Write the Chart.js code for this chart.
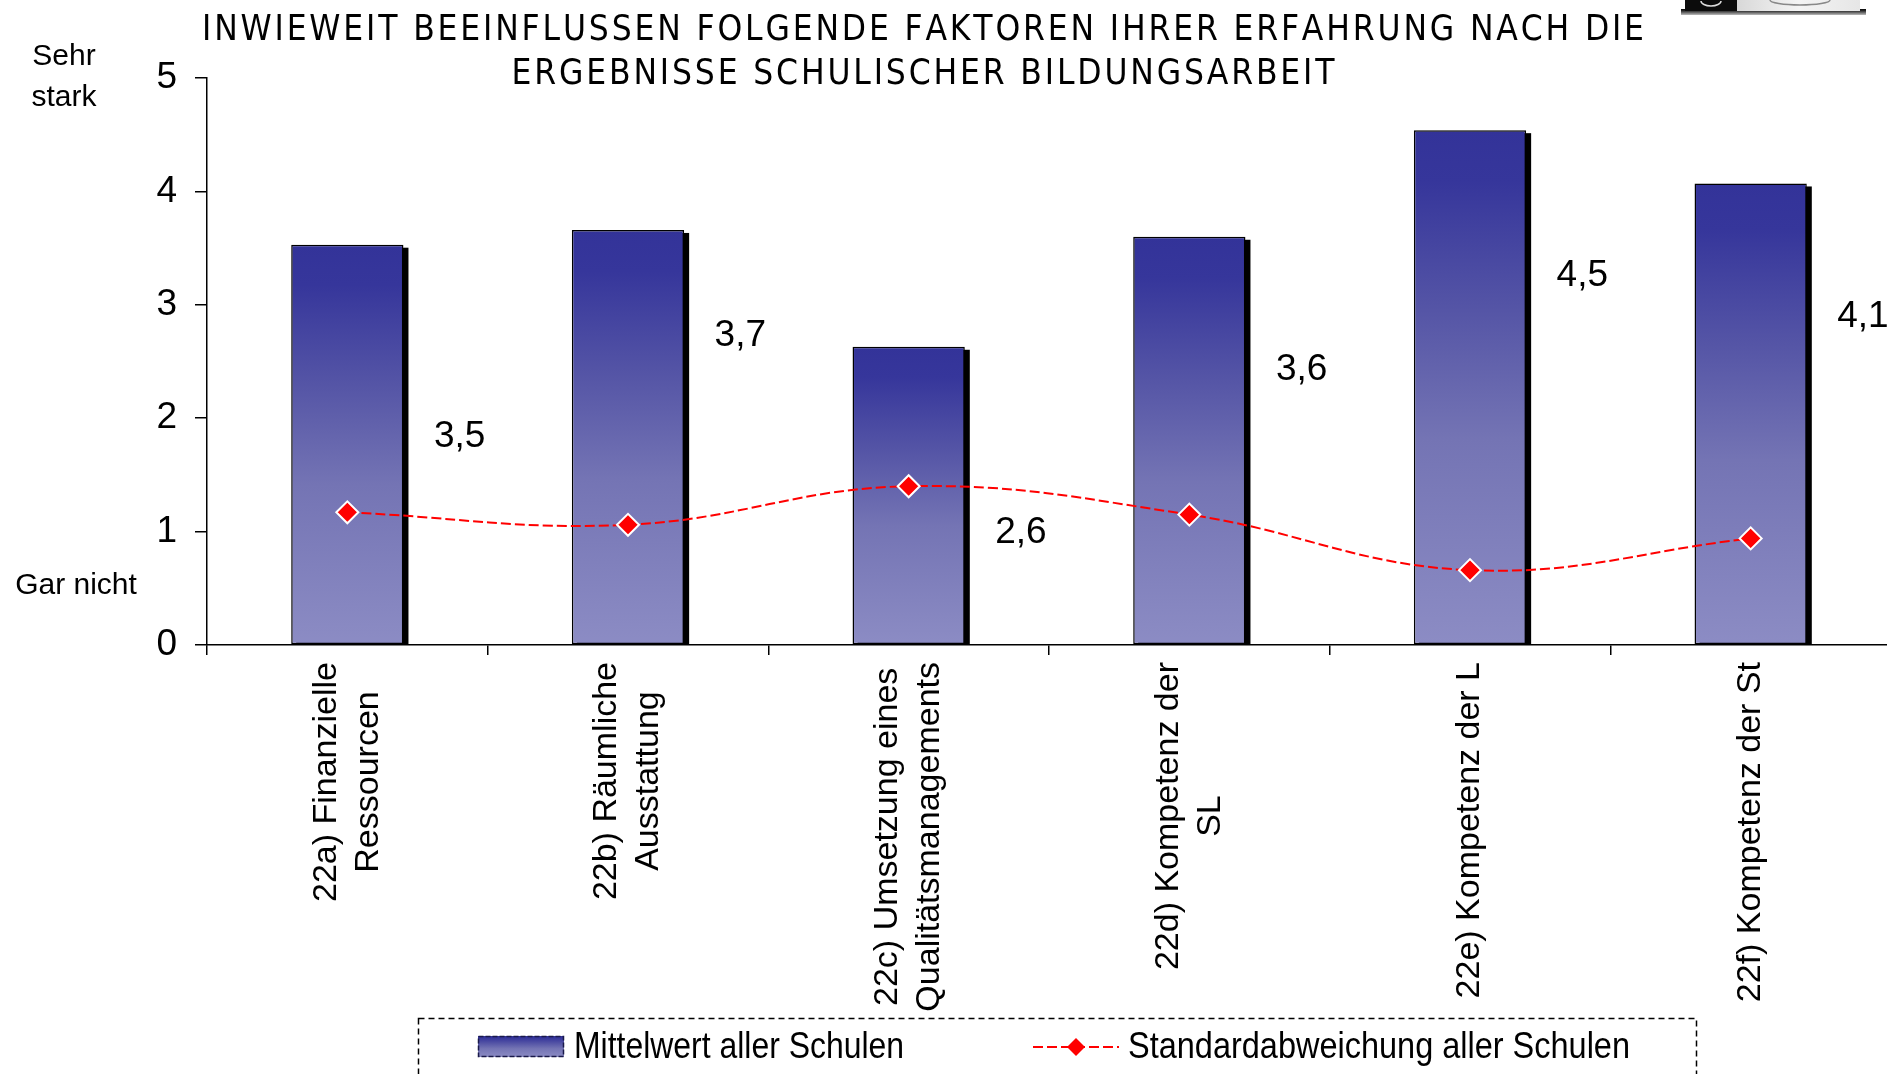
<!DOCTYPE html>
<html lang="de">
<head>
<meta charset="utf-8">
<title>Einflussfaktoren schulischer Bildungsarbeit</title>
<script src="https://cdn.jsdelivr.net/npm/chart.js@4.4.1/dist/chart.umd.min.js"></script>
<style>
    html, body { margin: 0; padding: 0; background: #fff; overflow: hidden; }
    #wrap { width: 1887px; height: 1074px; overflow: hidden; }
</style>
</head>
<body>
<div id="wrap"><canvas id="chart" width="1895" height="1074"></canvas></div>
<script>
// Data
const categories = [
    ['22a) Finanzielle', 'Ressourcen'],
    ['22b) Räumliche', 'Ausstattung'],
    ['22c) Umsetzung eines', 'Qualitätsmanagements'],
    ['22d) Kompetenz der', 'SL'],
    ['22e) Kompetenz der L'],
    ['22f) Kompetenz der St']
];
const meanValues = [3.53, 3.66, 2.63, 3.60, 4.54, 4.07];
const stdValues = [1.17, 1.06, 1.40, 1.15, 0.66, 0.94];
const yTicks = [0, 1, 2, 3, 4, 5];
const seriesNames = ['Mittelwert aller Schulen', 'Standardabweichung aller Schulen'];
const titleLines = [
    'INWIEWEIT BEEINFLUSSEN FOLGENDE FAKTOREN IHRER ERFAHRUNG NACH DIE',
    'ERGEBNISSE SCHULISCHER BILDUNGSARBEIT'
];

// height (in axis units) where each value label sits
const labelLevels = [1.84, 2.73, 0.99, 2.43, 3.26, 2.89];

const FONT = '"Liberation Sans", Arial, sans-serif';

function fmt(v) {
    return v.toFixed(1).replace('.', ',');
}

function barGradient(ctx, top, bottom) {
    const g = ctx.createLinearGradient(0, top, 0, bottom);
    g.addColorStop(0, '#333399');
    g.addColorStop(0.1, '#36369b');
    g.addColorStop(0.35, '#5555a6');
    g.addColorStop(0.6, '#7474b4');
    g.addColorStop(1, '#8c8cc4');
    return g;
}

function diamond(ctx, x, y, r) {
    ctx.beginPath();
    ctx.moveTo(x, y - r);
    ctx.lineTo(x + r, y);
    ctx.lineTo(x, y + r);
    ctx.lineTo(x - r, y);
    ctx.closePath();
}

// Extra drawing: bar shadows, title, labels, legend
const decorations = {
    id: 'decorations',
    beforeDatasetDraw(chart, args) {
        if (args.index !== 0) return;
        const ctx = chart.ctx;
        ctx.save();
        ctx.fillStyle = '#000';
        args.meta.data.forEach(bar => {
            const p = bar.getProps(['x', 'y', 'base', 'width'], true);
            ctx.fillRect(p.x - p.width / 2 + 5, p.y + 3, p.width, p.base - p.y - 3);
        });
        ctx.restore();
    },
    afterDraw(chart) {
        const ctx = chart.ctx;
        const xs = chart.scales.x;
        const ys = chart.scales.y;
        ctx.save();
        ctx.fillStyle = '#000';

        // title, letter-spaced caps
        ctx.font = '35px "Liberation Sans Narrow", "DejaVu Sans Condensed", sans-serif';
        ctx.textAlign = 'left';
        ctx.textBaseline = 'alphabetic';
        const charsWidth = s => [...s].reduce((a, ch) => a + ctx.measureText(ch).width, 0);
        const first = titleLines[0];
        const spacing = (1442 - charsWidth(first)) / (first.length - 1);
        const titleY = [40, 84];
        titleLines.forEach((line, k) => {
            const w = charsWidth(line) + spacing * (line.length - 1);
            let x = 923 - w / 2;
            for (const ch of line) {
                ctx.fillText(ch, x, titleY[k]);
                x += ctx.measureText(ch).width + spacing;
            }
        });

        // axis end descriptions
        ctx.font = '30px ' + FONT;
        ctx.textAlign = 'center';
        ctx.textBaseline = 'middle';
        ctx.fillText('Sehr', 64, 57);
        ctx.fillText('stark', 64, 98);
        ctx.fillText('Gar nicht', 76, 586);

        // rotated category labels, lines centred on each other
        ctx.font = '34px ' + FONT;
        categories.forEach((lines, i) => {
            const x = xs.getPixelForValue(i);
            const w = Math.max(...lines.map(l => ctx.measureText(l).width));
            ctx.save();
            ctx.translate(x, xs.top + 17 + w / 2);
            ctx.rotate(-Math.PI / 2);
            lines.forEach((l, k) => ctx.fillText(l, 0, (k - (lines.length - 1) / 2) * 42));
            ctx.restore();
        });

        // value labels right of each bar
        const step = xs.getPixelForValue(1) - xs.getPixelForValue(0);
        ctx.font = '37px ' + FONT;
        chart.getDatasetMeta(0).data.forEach((bar, i) => {
            ctx.fillText(fmt(meanValues[i]), bar.x + 0.4 * step, ys.getPixelForValue(labelLevels[i]));
        });

        // legend frame
        ctx.setLineDash([6, 4]);
        ctx.lineWidth = 1.5;
        ctx.strokeStyle = '#000';
        ctx.strokeRect(418.5, 1018.5, 1278, 80);

        // legend: bar swatch
        ctx.setLineDash([]);
        ctx.fillStyle = barGradient(ctx, 1036, 1057);
        ctx.fillRect(478, 1036, 86, 21);
        ctx.setLineDash([5, 2]);
        ctx.lineWidth = 1.5;
        ctx.strokeStyle = '#1a1a4a';
        ctx.strokeRect(478.5, 1036.5, 85, 20);

        ctx.fillStyle = '#000';
        ctx.font = '36px ' + FONT;
        ctx.textAlign = 'left';
        ctx.fillText(chart.data.datasets[0].label, 574, 1048, 330);

        // legend: line sample
        ctx.setLineDash([10, 4]);
        ctx.strokeStyle = '#ff0000';
        ctx.lineWidth = 2;
        ctx.beginPath();
        ctx.moveTo(1033, 1047);
        ctx.lineTo(1119, 1047);
        ctx.stroke();
        ctx.setLineDash([]);
        ctx.fillStyle = '#ff0000';
        diamond(ctx, 1076, 1047, 9);
        ctx.fill();
        ctx.fillStyle = '#000';
        ctx.fillText(chart.data.datasets[1].label, 1128, 1048, 502);

        // little logo strip in the top right corner
        const sh = ctx.createLinearGradient(0, 10, 0, 15);
        sh.addColorStop(0, '#111');
        sh.addColorStop(1, '#bbb');
        ctx.fillStyle = sh;
        ctx.fillRect(1681, 9, 185, 6);
        ctx.fillStyle = '#0c0c0c';
        ctx.fillRect(1685, 0, 52, 11);
        const lg = ctx.createLinearGradient(1737, 0, 1860, 0);
        lg.addColorStop(0, '#d8d8d8');
        lg.addColorStop(0.5, '#f4f4f4');
        lg.addColorStop(1, '#e6e6e6');
        ctx.fillStyle = lg;
        ctx.fillRect(1737, 0, 123, 11);
        ctx.strokeStyle = '#ddd';
        ctx.lineWidth = 1.5;
        ctx.beginPath();
        ctx.ellipse(1711, 1, 10, 5, 0, 0, Math.PI);
        ctx.stroke();
        ctx.strokeStyle = '#888';
        ctx.beginPath();
        ctx.ellipse(1800, 0, 30, 5, 0, 0, Math.PI);
        ctx.stroke();

        ctx.restore();
    }
};

const ctx = document.getElementById('chart').getContext('2d');
const chart = new Chart(ctx, {
    type: 'bar',
    data: {
        labels: categories,
        datasets: [{
            type: 'bar',
            label: seriesNames[0],
            data: meanValues,
            order: 1,
            barPercentage: 0.4,
            categoryPercentage: 1,
            borderColor: '#000',
            borderWidth: 1.5,
            borderSkipped: false,
            backgroundColor: function(context) {
                const c = context.chart;
                if (!c.chartArea || context.type !== 'data') return '#5c5ca8';
                const y = c.scales.y;
                return barGradient(c.ctx, y.getPixelForValue(meanValues[context.dataIndex]), y.getPixelForValue(0));
            }
        }, {
            type: 'line',
            label: seriesNames[1],
            data: stdValues,
            order: 0,
            borderColor: '#ff0000',
            borderWidth: 2,
            borderDash: [10, 4],
            tension: 0.4,
            fill: false,
            pointStyle: 'rectRot',
            pointRadius: 11,
            pointBackgroundColor: '#ff0000',
            pointBorderColor: '#ffffff',
            pointBorderWidth: 2
        }]
    },
    options: {
        responsive: false,
        devicePixelRatio: 1,
        animation: false,
        layout: { autoPadding: false, padding: { top: 78, left: 0, right: 4, bottom: 0 } },
        plugins: {
            legend: { display: false },
            title: { display: false },
            tooltip: { enabled: false }
        },
        scales: {
            x: {
                grid: {
                    offset: true,
                    drawOnChartArea: false,
                    drawTicks: true,
                    tickLength: 10,
                    color: '#000',
                    lineWidth: 1.5
                },
                border: { display: true, color: '#000', width: 1.5 },
                ticks: { display: false },
                afterFit: function(scale) { scale.height = 1074 - 645; }
            },
            y: {
                min: 0,
                max: 5,
                afterBuildTicks: function(scale) {
                    scale.ticks = yTicks.map(v => ({ value: v }));
                },
                grid: {
                    drawOnChartArea: false,
                    drawTicks: true,
                    tickLength: 12,
                    color: '#000',
                    lineWidth: 1.5
                },
                border: { display: true, color: '#000', width: 1.5 },
                ticks: {
                    color: '#000',
                    padding: 18,
                    font: { family: FONT, size: 37 }
                },
                afterFit: function(scale) { scale.width = 207; }
            }
        }
    },
    plugins: [decorations]
});
</script>
</body>
</html>
